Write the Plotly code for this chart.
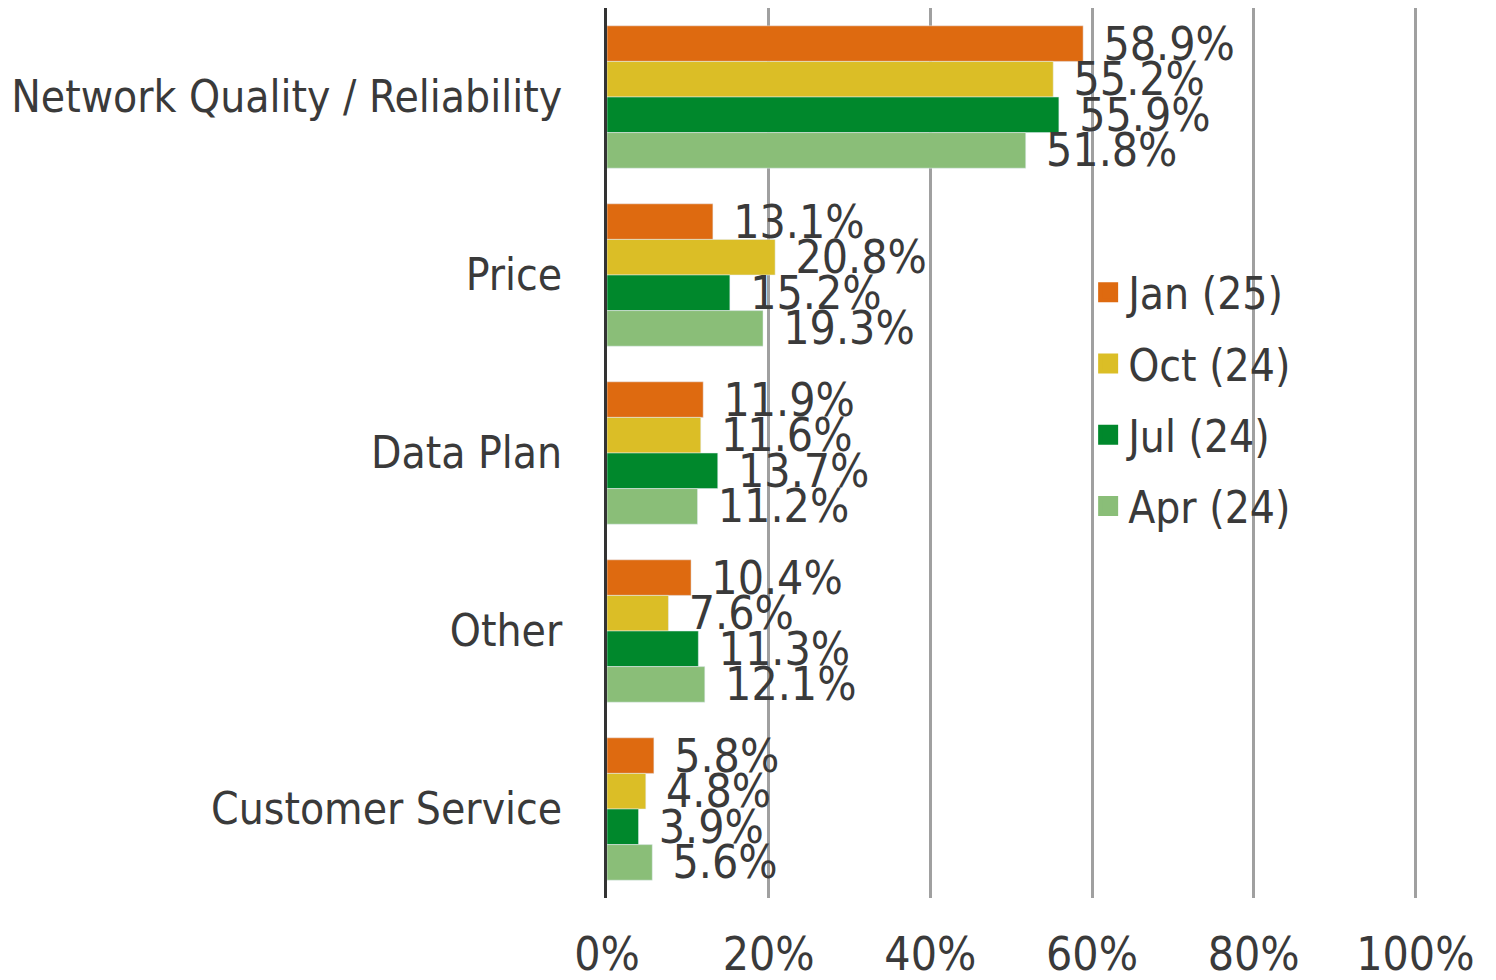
import plotly.graph_objects as go

categories = ["Network Quality / Reliability", "Price", "Data Plan", "Other", "Customer Service"]
series_names = ["Jan (25)", "Oct (24)", "Jul (24)", "Apr (24)"]
jan_25 = [58.9, 13.1, 11.9, 10.4, 5.8]
oct_24 = [55.2, 20.8, 11.6, 7.6, 4.8]
jul_24 = [55.9, 15.2, 13.7, 11.3, 3.9]
apr_24 = [51.8, 19.3, 11.2, 12.1, 5.6]
x_ticks = [0, 20, 40, 60, 80, 100]

colors = ["#DE6A10", "#DBBE26", "#00882C", "#8ABE78"]
FONT = "DejaVu Sans Condensed, DejaVu Sans, sans-serif"
TEXT = "#3a3a3a"

fig = go.Figure()
for name, vals, col in zip(series_names, [jan_25, oct_24, jul_24, apr_24], colors):
    fig.add_trace(go.Bar(
        y=categories, x=vals, orientation="h", name=name,
        marker=dict(color=col), showlegend=False,
        text=[f" \u200a{v:.1f}%" for v in vals], textposition="outside",
        textfont=dict(family=FONT, size=46, color=TEXT),
        constraintext="none", cliponaxis=False,
    ))
    # legend entry with bigger swatch
    fig.add_trace(go.Scatter(
        x=[None], y=[None], mode="markers", name=name, legendgroup=name,
        marker=dict(symbol="square", size=16, color=col, line=dict(color=col, width=4)),
    ))

# page body adds an 8px offset, so the figure is a bit smaller than the window
fig.update_layout(
    width=1488, height=972,
    barmode="group", bargap=0.2, bargroupgap=0,
    plot_bgcolor="white", paper_bgcolor="white",
    margin=dict(l=599, r=79, t=0, b=82),
    font=dict(family=FONT, size=44, color=TEXT),
    legend=dict(x=0.594, y=0.72, xanchor="left", yanchor="top",
                font=dict(family=FONT, size=44, color=TEXT),
                tracegroupgap=11, bgcolor="rgba(0,0,0,0)", itemwidth=30),
    xaxis=dict(range=[0, 100.2], tickvals=x_ticks, ticktext=[f"{t}%" for t in x_ticks],
               showgrid=True, gridcolor="#A0A0A0", gridwidth=3, zeroline=False,
               ticks="outside", ticklen=16, tickcolor="rgba(0,0,0,0)", automargin=False,
               tickfont=dict(family=FONT, size=46, color=TEXT)),
    yaxis=dict(autorange="reversed", showline=True, linecolor="#333333", linewidth=3,
               ticks="outside", ticklen=33, tickcolor="rgba(0,0,0,0)", automargin=False,
               tickfont=dict(family=FONT, size=44, color=TEXT)),
)

fig.write_html("out.html")
